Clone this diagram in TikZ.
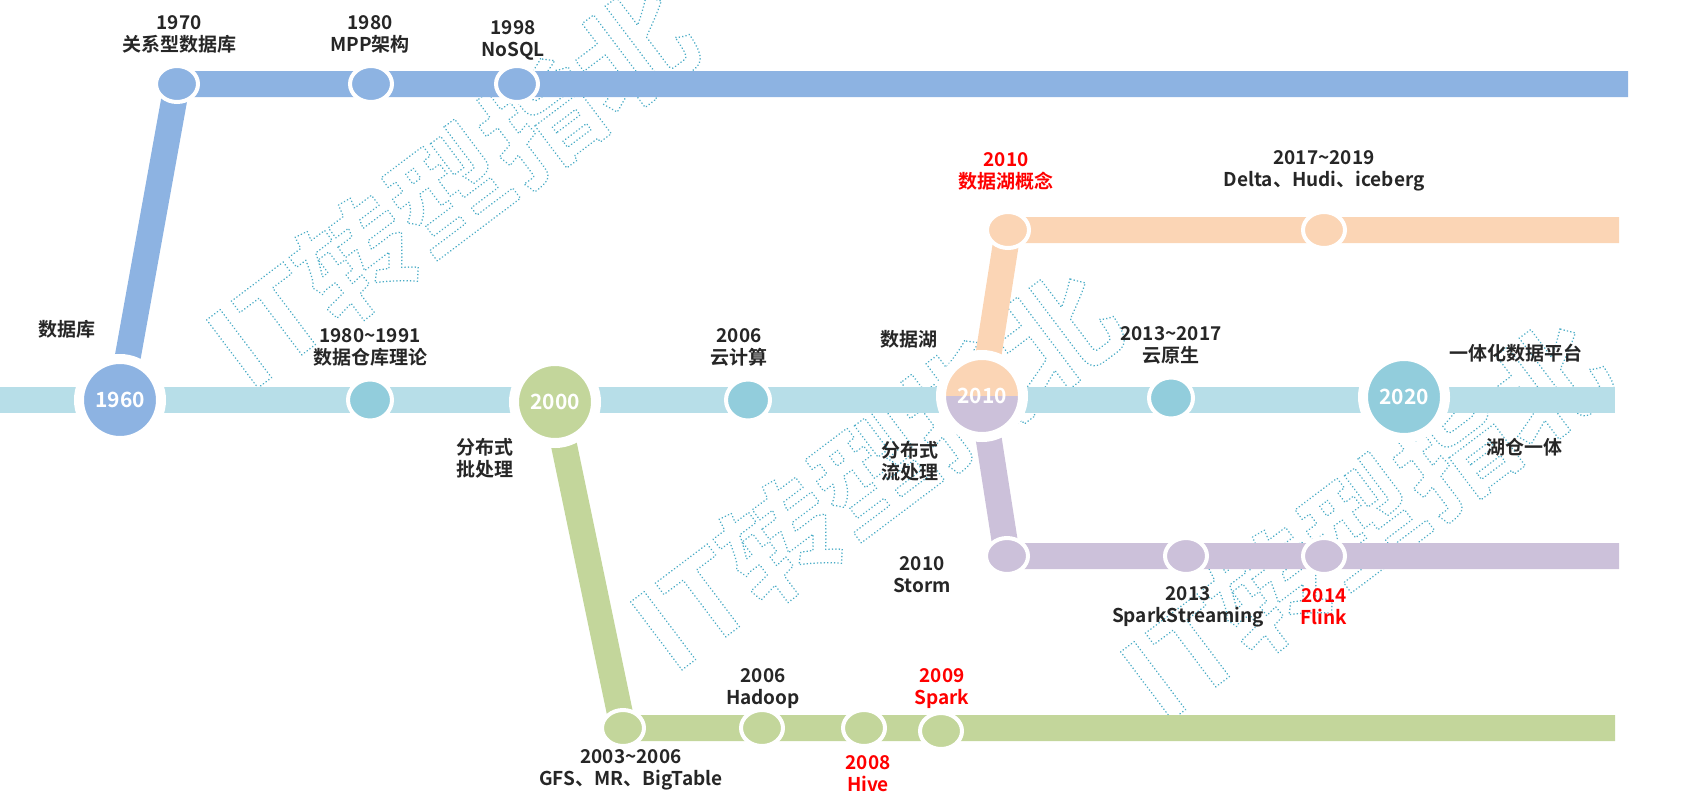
\documentclass[tikz,border=0pt]{standalone}
\usepackage{fontspec}
\setmainfont{Noto Sans CJK SC}[BoldFont={Noto Sans CJK SC Bold}]
\usepackage{tikz}
\usetikzlibrary{shapes.geometric, backgrounds}
\definecolor{dbBlue}{HTML}{8DB3E2}
\definecolor{midLine}{HTML}{B7DEE8}
\definecolor{midNode}{HTML}{92CDDC}
\definecolor{batchGreen}{HTML}{C3D69B}
\definecolor{lakeOrange}{HTML}{FBD5B5}
\definecolor{streamPurple}{HTML}{CCC1DA}
\definecolor{txtBlack}{HTML}{262626}
\definecolor{hotRed}{HTML}{FF0000}
\definecolor{wmFill}{HTML}{EEF7FA}

% dotted outline for the watermark
\makeatletter
\newcommand\wmark[1]{\pgfsys@beginscope\pgfsys@invoke{1 Tr 1.8 w 1 J 1 j [0 3.4] 0 d 0.294 0.675 0.776 RG}#1\pgfsys@endscope}
\makeatother

\begin{document}
\begin{tikzpicture}[x=1pt, y=-1pt,
  track/.style={line width=26pt, line join=round},
  bigst/.style={circle, draw=white, line width=10pt, minimum size=82pt,
                inner sep=0pt, text=white, font=\bfseries\fontsize{21}{24}\selectfont},
  smallst/.style={ellipse, draw=white, line width=4pt, minimum width=42pt,
                  minimum height=36pt, inner sep=0pt},
  midst/.style={smallst, minimum width=44pt, minimum height=41pt, fill=midNode},
  lbl/.style={align=center, text=txtBlack, font=\bfseries\fontsize{19}{22}\selectfont},
  hot/.style={lbl, text=hotRed},
  wm/.style={rotate=37, text=wmFill, font=\bfseries\fontsize{115}{115}\selectfont}
]
\useasboundingbox (0,0) rectangle (1683,803);

% middle line
\node[bigst, fill=dbBlue] (n1960) at (120,400) {1960};
\node[midst] (n1980dw) at (370,400) {};
\node[bigst, fill=batchGreen] (n2000) at (555,402) {2000};
\node[midst] (n2006cloud) at (748,400) {};
\node[bigst, fill=streamPurple, path picture={
    \fill[lakeOrange] (path picture bounding box.west) rectangle (path picture bounding box.north east);}]
  (n2010) at (982,396) {2010};
\node[midst] (n2013cloud) at (1171,398) {};
\node[bigst, fill=midNode] (n2020) at (1404,397) {2020};

% database line
\node[smallst, fill=dbBlue] (n1970) at (177,84) {};
\node[smallst, fill=dbBlue] (n1980mpp) at (371,84) {};
\node[smallst, fill=dbBlue] (n1998) at (517,84) {};

% lake line
\node[smallst, fill=lakeOrange] (nLake) at (1008,230) {};
\node[smallst, fill=lakeOrange] (nDelta) at (1324,230) {};

% stream line
\node[smallst, fill=streamPurple] (nStorm) at (1007,556) {};
\node[smallst, fill=streamPurple] (nSS) at (1186,556) {};
\node[smallst, fill=streamPurple] (nFlink) at (1324,556) {};

% batch line
\node[smallst, fill=batchGreen] (nGFS) at (623,728) {};
\node[smallst, fill=batchGreen] (nHadoop) at (762,728) {};
\node[smallst, fill=batchGreen] (nHive) at (864,728) {};
\node[smallst, fill=batchGreen] (nSpark) at (941,731) {};

\coordinate (midStart) at (0,400);
\coordinate (midEnd) at (1615,400);
\coordinate (topEnd) at (1628,84);
\coordinate (lakeEnd) at (1619,230);
\coordinate (streamEnd) at (1619,556);
\coordinate (batchEnd) at (1615,728);

\begin{scope}[on background layer]
  \node[wm] (wm1) at (451,188) {\wmark{IT转型指北}};
  \node[wm] (wm2) at (875,470) {\wmark{IT转型指北}};
  \node[wm] (wm3) at (1365,520) {\wmark{IT转型指北}};
  \draw[track, midLine] (midStart) -- (midEnd);
  \draw[track, dbBlue] (n1960.center) -- (n1970.center) -- (topEnd);
  \draw[track, lakeOrange] (n2010.center) -- (nLake.center) -- (lakeEnd);
  \draw[track, streamPurple] (n2010.center) -- (nStorm.center) -- (streamEnd);
  \draw[track, batchGreen] (n2000.center) -- (nGFS.center) -- (batchEnd);
\end{scope}

% labels
\node[lbl] (t1970) at (179,34) {1970\\关系型数据库};
\node[lbl] (t1980mpp) at (370,34) {1980\\MPP架构};
\node[lbl] (t1998) at (513,40) {1998\\NoSQL};
\node[lbl] (tDB) at (67,329) {数据库};
\node[lbl] (t1980dw) at (370,347) {1980\textasciitilde1991\\数据仓库理论};
\node[lbl] (t2006cloud) at (739,347) {2006\\云计算};
\node[lbl] (tLake) at (909,339) {数据湖};
\node[hot] (tLakeIdea) at (1006,171) {2010\\数据湖概念};
\node[lbl] (tDelta) at (1324,171) {2017\textasciitilde2019\\Delta、Hudi、iceberg};
\node[lbl] (t2013cloud) at (1171,345) {2013\textasciitilde2017\\云原生};
\node[lbl] (tPlatform) at (1516,353) {一体化数据平台};
\node[lbl] (tBatch) at (485,458) {分布式\\批处理};
\node[lbl] (tStream) at (910,461) {分布式\\流处理};
\node[lbl] (tLakehouse) at (1524,447) {湖仓一体};
\node[lbl] (tStorm) at (922,575) {2010\\Storm};
\node[lbl] (tSS) at (1188,607) {2013\\SparkStreaming};
\node[hot] (tFlink) at (1324,607) {2014\\Flink};
\node[lbl] (tHadoop) at (763,689) {2006\\Hadoop};
\node[hot] (tSpark) at (942,689) {2009\\Spark};
\node[lbl] (tGFS) at (631,770) {2003\textasciitilde2006\\GFS、MR、BigTable};
\node[hot] (tHive) at (868,774) {2008\\Hive};
\end{tikzpicture}
\end{document}
